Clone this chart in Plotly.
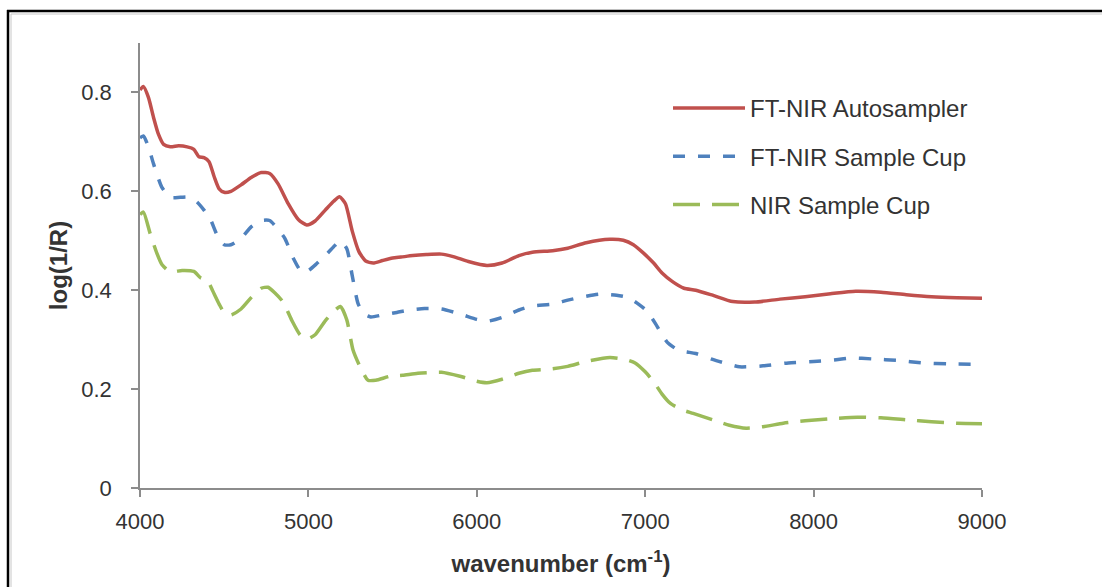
import plotly.graph_objects as go

# ---- data ----
red_x = [4000, 4020, 4050, 4080, 4110, 4140, 4180, 4230, 4280, 4320, 4350, 4380, 4410, 4440, 4470, 4500,
         4540, 4600, 4660, 4720, 4770, 4820, 4880, 4940, 4990, 5040, 5100, 5150, 5185, 5220, 5260, 5300,
         5340, 5385, 5440, 5500, 5550, 5620, 5700, 5790, 5860, 5950, 6060, 6150, 6250, 6330, 6450, 6540,
         6650, 6790, 6870, 6930, 6990, 7050, 7100, 7160, 7230, 7300, 7400, 7520, 7650, 7800, 7950, 8100,
         8250, 8400, 8550, 8700, 8850, 9000]
red_y = [0.805, 0.812, 0.79, 0.75, 0.715, 0.695, 0.69, 0.692, 0.69, 0.685, 0.670, 0.668, 0.66, 0.63, 0.605, 0.598,
         0.600, 0.613, 0.628, 0.638, 0.636, 0.615, 0.575, 0.543, 0.532, 0.540, 0.562, 0.58, 0.589, 0.575, 0.52, 0.478,
         0.459, 0.455, 0.460, 0.465, 0.467, 0.470, 0.472, 0.473, 0.468, 0.458, 0.450, 0.455, 0.47, 0.477, 0.48, 0.485,
         0.496, 0.503, 0.501, 0.492, 0.475, 0.455, 0.435, 0.418, 0.404, 0.400, 0.390, 0.377, 0.376, 0.382, 0.387, 0.393,
         0.398, 0.396, 0.391, 0.387, 0.385, 0.384]

blue_x = [4000, 4020, 4050, 4080, 4130, 4180, 4240, 4300, 4340, 4380, 4420, 4460, 4500, 4540, 4600, 4660,
          4720, 4770, 4820, 4860, 4910, 4960, 5000, 5050, 5100, 5150, 5190, 5228, 5260, 5295, 5330, 5370,
          5440, 5525, 5600, 5690, 5790, 5900, 6000, 6060, 6150, 6250, 6330, 6450, 6540, 6650, 6730, 6830,
          6900, 6960, 7010, 7060, 7130, 7200, 7250, 7300, 7400, 7500, 7560, 7700, 7850, 8000, 8120, 8220,
          8350, 8500, 8650, 8800, 9000]
blue_y = [0.708, 0.712, 0.69, 0.656, 0.608, 0.588, 0.588, 0.588, 0.578, 0.562, 0.542, 0.51, 0.492, 0.492, 0.505, 0.528,
          0.541, 0.541, 0.523, 0.505, 0.465, 0.437, 0.44, 0.454, 0.47, 0.488, 0.500, 0.484, 0.43, 0.373, 0.352, 0.346,
          0.350, 0.355, 0.36, 0.363, 0.362, 0.352, 0.341, 0.337, 0.345, 0.36, 0.368, 0.372, 0.38, 0.388, 0.392, 0.390,
          0.385, 0.372, 0.358, 0.333, 0.295, 0.278, 0.275, 0.272, 0.26, 0.25, 0.245, 0.247, 0.253, 0.256, 0.259, 0.263,
          0.261, 0.258, 0.253, 0.251, 0.250]

green_x = [4000, 4020, 4060, 4100, 4130, 4180, 4250, 4320, 4360, 4400, 4430, 4470, 4500, 4540, 4600, 4660,
           4720, 4760, 4800, 4850, 4900, 4950, 4990, 5040, 5100, 5150, 5190, 5228, 5265, 5307, 5354, 5400,
           5485, 5560, 5650, 5790, 5900, 6000, 6060, 6150, 6250, 6330, 6450, 6540, 6650, 6790, 6880, 6940,
           7000, 7050, 7100, 7150, 7220, 7285, 7400, 7500, 7600, 7700, 7820, 7950, 8100, 8260, 8400, 8550,
           8700, 8850, 9000]
green_y = [0.553, 0.558, 0.515, 0.475, 0.452, 0.437, 0.440, 0.438, 0.425, 0.420, 0.400, 0.372, 0.355, 0.350, 0.362, 0.385,
           0.404, 0.406, 0.395, 0.376, 0.340, 0.310, 0.301, 0.310, 0.338, 0.357, 0.367, 0.340, 0.279, 0.245, 0.218, 0.218,
           0.226, 0.228, 0.232, 0.234, 0.226, 0.216, 0.213, 0.220, 0.232, 0.238, 0.241, 0.246, 0.256, 0.264, 0.260, 0.253,
           0.235, 0.215, 0.19, 0.171, 0.158, 0.151, 0.138, 0.127, 0.121, 0.124, 0.131, 0.136, 0.140, 0.143, 0.142, 0.138,
           0.134, 0.131, 0.130]

series_names = ["FT-NIR Autosampler", "FT-NIR Sample Cup", "NIR Sample Cup"]
x_ticks = [4000, 5000, 6000, 7000, 8000, 9000]
y_ticks = [0, 0.2, 0.4, 0.6, 0.8]

FONT = "Liberation Sans, Arial, sans-serif"
TXT = "#333333"
AX = "#8c8c8c"

fig = go.Figure()
fig.add_trace(go.Scatter(x=red_x, y=red_y, mode="lines", name=series_names[0], legendgroup="a",
                         line=dict(color="#C0504D", width=3.5, shape="spline", smoothing=0.6)))
fig.add_trace(go.Scatter(x=blue_x, y=blue_y, mode="lines", name=series_names[1], legendgroup="b",
                         line=dict(color="#4F81BD", width=3.5, dash="12px,13px", shape="spline", smoothing=0.6)))
fig.add_trace(go.Scatter(x=green_x, y=green_y, mode="lines", name=series_names[2], legendgroup="c",
                         line=dict(color="#9BBB59", width=3.5, dash="27px,12px", shape="spline", smoothing=0.6)))

L, R, T, B = 140, 120, 43, 99
PW, PH = 1102 - L - R, 587 - T - B

def px(xp):
    return (xp - L) / PW

def py(yp):
    return (587 - B - yp) / PH

fig.update_layout(
    width=1102, height=587,
    margin=dict(l=L, r=R, t=T, b=B, autoexpand=False),
    paper_bgcolor="white", plot_bgcolor="white",
    font=dict(family=FONT, size=22, color=TXT),
    showlegend=True,
    legend=dict(x=px(668), y=py(86), xanchor="left", yanchor="top",
                bgcolor="rgba(0,0,0,0)", font=dict(size=24, color=TXT),
                itemwidth=72, tracegroupgap=14, traceorder="grouped"),
    xaxis=dict(range=[4000, 9000], tickvals=x_ticks, ticktext=[str(v) for v in x_ticks],
               showgrid=False, zeroline=False, showline=True, linecolor=AX, linewidth=1.5,
               ticks="outside", ticklen=7, tickcolor=AX, tickwidth=1.5,
               tickfont=dict(size=22, color=TXT), ticklabelstandoff=6,
               title=dict(text="<b>wavenumber (cm<sup>-1</sup>)</b>", font=dict(size=24, color=TXT), standoff=22)),
    yaxis=dict(range=[0, 0.9], tickvals=y_ticks, ticktext=["0", "0.2", "0.4", "0.6", "0.8"],
               showgrid=False, zeroline=False, showline=True, linecolor=AX, linewidth=1.5,
               ticks="outside", ticklen=7, tickcolor=AX, tickwidth=1.5,
               tickfont=dict(size=22, color=TXT), ticklabelstandoff=15,
               title=dict(text="<b>log(1/R)</b>", font=dict(size=24, color=TXT), standoff=7)),
    shapes=[
        # document frame (black outer line and grey inner line)
        dict(type="line", xref="paper", yref="paper", x0=px(7), x1=px(1102), y0=py(11), y1=py(11),
             line=dict(color="black", width=2.5)),
        dict(type="line", xref="paper", yref="paper", x0=px(8), x1=px(8), y0=py(10), y1=py(587),
             line=dict(color="black", width=2.5)),
        dict(type="line", xref="paper", yref="paper", x0=px(11), x1=px(1102), y0=py(14), y1=py(14),
             line=dict(color="#c8c8c8", width=1)),
        dict(type="line", xref="paper", yref="paper", x0=px(11), x1=px(11), y0=py(14), y1=py(587),
             line=dict(color="#c8c8c8", width=1)),
    ],
)

fig.write_html("out.html", config={"displayModeBar": False},
               post_script="document.body.style.margin='0';document.body.style.overflow='hidden';")
